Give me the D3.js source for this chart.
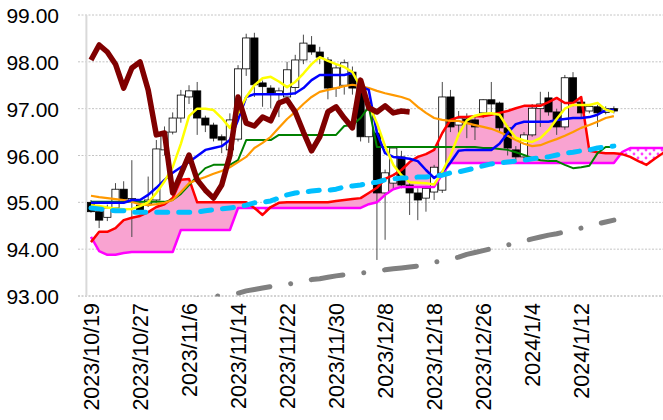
<!DOCTYPE html>
<html><head><meta charset="utf-8">
<script src="https://cdn.jsdelivr.net/npm/d3@7/dist/d3.min.js"></script>
<style>body{margin:0;background:#fff}svg{display:block}</style>
</head><body>
<svg id="c" width="663" height="420"></svg>
<script>
// ---------- data ----------
const dates = ["2023/10/19","2023/10/20","2023/10/23","2023/10/24","2023/10/25","2023/10/26","2023/10/27","2023/10/30","2023/10/31","2023/11/1",
"2023/11/2","2023/11/3","2023/11/6","2023/11/7","2023/11/8","2023/11/9","2023/11/10","2023/11/13","2023/11/14","2023/11/15",
"2023/11/16","2023/11/17","2023/11/20","2023/11/21","2023/11/22","2023/11/23","2023/11/24","2023/11/27","2023/11/28","2023/11/29",
"2023/11/30","2023/12/1","2023/12/4","2023/12/5","2023/12/6","2023/12/7","2023/12/8","2023/12/11","2023/12/12","2023/12/13",
"2023/12/14","2023/12/15","2023/12/18","2023/12/19","2023/12/20","2023/12/21","2023/12/22","2023/12/25","2023/12/26","2023/12/27",
"2023/12/28","2023/12/29","2024/1/2","2024/1/3","2024/1/4","2024/1/5","2024/1/8","2024/1/9","2024/1/10","2024/1/11",
"2024/1/12","2024/1/15","2024/1/16","2024/1/17","2024/1/18"];
const futureSlots = 26;
const openP  = [95.00,94.80,94.68,94.88,95.28,95.02,94.94,94.97,95.05,96.12,96.50,96.80,97.25,97.38,96.80,96.65,96.40,96.12,96.35,97.85,98.51,97.55,97.44,97.30,97.25,97.45,98.04,98.36,98.21,98.04,97.44,97.50,97.78,97.44,96.40,96.48,95.20,95.41,95.97,95.37,95.20,95.09,95.22,95.26,97.25,96.65,96.78,96.76,96.91,97.19,97.12,96.59,96.12,95.97,96.44,97.00,97.23,96.93,96.61,97.66,97.14,96.95,97.04,96.92,97.00];
const highP  = [95.05,94.90,94.95,95.41,95.45,95.90,95.05,95.55,96.33,96.62,96.92,97.40,97.50,97.57,96.85,96.70,96.45,96.90,97.93,98.60,98.62,97.60,97.50,97.45,98.00,98.15,98.58,98.55,98.32,98.10,97.95,98.05,97.90,97.50,97.05,96.60,95.70,96.20,96.10,95.45,95.30,95.35,95.80,97.57,97.40,96.95,96.90,96.85,97.20,97.57,97.15,96.65,96.20,96.50,97.10,97.36,97.36,97.00,97.72,97.78,97.20,97.10,97.08,97.05,97.05];
const lowP   = [94.78,94.45,94.60,94.85,95.00,94.26,94.70,94.90,95.00,96.00,96.45,96.70,97.10,96.44,96.50,96.30,96.05,95.95,96.30,97.70,97.25,97.04,97.01,96.82,97.15,97.30,97.95,98.15,97.95,97.20,97.25,97.30,97.30,96.30,96.27,93.77,94.20,95.30,95.30,94.73,94.62,94.80,95.05,95.20,96.50,96.40,96.37,96.33,96.80,96.90,96.50,96.00,95.90,95.90,96.40,96.61,96.85,96.44,96.55,97.05,96.82,96.90,96.61,96.88,96.90];
const closeP = [94.80,94.62,94.88,95.28,95.07,95.08,94.79,95.05,96.14,96.50,96.80,97.29,97.38,96.80,96.65,96.37,96.33,96.76,97.85,98.51,97.51,97.47,97.33,97.38,97.83,98.04,98.40,98.21,98.10,97.44,97.87,97.98,97.44,96.40,96.97,95.20,95.63,96.16,95.37,95.20,95.05,95.30,95.75,97.25,96.61,96.80,96.70,96.61,97.19,97.10,96.59,96.16,95.97,96.44,97.01,97.10,96.93,96.61,97.66,97.14,96.91,97.05,96.91,97.00,96.95];
const tenkan = [94.94,94.92,94.89,94.87,94.85,94.86,94.92,95.00,95.20,95.45,95.75,96.25,96.84,97.00,97.00,96.97,96.80,96.59,96.90,97.25,97.50,97.65,97.68,97.58,97.46,97.57,97.75,97.95,98.10,98.02,97.95,97.89,97.78,97.46,97.10,96.69,96.20,95.80,95.58,95.43,95.42,95.41,95.38,95.65,96.00,96.45,96.75,96.85,96.89,96.90,96.87,96.60,96.38,96.32,96.29,96.37,96.54,96.78,97.00,97.08,97.08,97.08,97.12,96.98,96.93];
const kijun = [94.99,94.99,94.99,94.99,94.99,95.05,95.05,95.16,95.31,95.48,95.63,95.75,95.86,95.99,96.12,96.16,96.20,96.33,96.76,97.25,97.31,97.31,97.31,97.31,97.31,97.33,97.44,97.61,97.72,97.72,97.72,97.72,97.76,97.48,97.40,96.48,96.05,95.97,95.95,95.93,95.88,95.69,95.52,95.65,95.85,96.10,96.12,96.12,96.12,96.12,96.25,96.48,96.67,96.72,96.72,96.72,96.72,96.76,96.78,96.80,96.80,96.82,96.87,96.97,96.97];
const greenLine = [95.01,95.01,95.01,95.01,95.01,95.01,95.01,95.01,95.01,95.01,95.05,95.18,95.37,95.56,95.73,95.80,95.80,95.80,95.90,96.33,96.33,96.33,96.33,96.44,96.44,96.44,96.44,96.44,96.44,96.44,96.44,96.63,96.65,96.80,97.04,96.18,96.18,96.18,96.18,96.18,96.18,96.18,96.18,96.18,96.18,96.18,96.18,96.18,96.16,96.16,96.14,96.12,96.07,96.01,95.95,95.90,95.88,95.88,95.80,95.73,95.75,95.78,96.05,96.18,96.18];
const orangeLine = [95.14,95.11,95.09,95.07,95.05,95.01,94.96,94.94,94.96,94.99,95.05,95.22,95.41,95.48,95.54,95.61,95.67,95.75,95.86,95.97,96.16,96.27,96.40,96.59,96.78,96.93,97.10,97.25,97.36,97.40,97.44,97.48,97.51,97.48,97.44,97.38,97.33,97.29,97.25,97.19,97.04,96.91,96.80,96.76,96.74,96.74,96.69,96.65,96.61,96.57,96.50,96.42,96.33,96.25,96.20,96.22,96.29,96.35,96.42,96.50,96.59,96.65,96.72,96.80,96.84];
const chikou = [98.04,98.36,98.21,97.95,97.44,97.87,98.00,97.40,96.44,96.48,95.20,95.60,96.01,95.48,95.26,95.09,95.37,96.00,97.25,96.69,96.63,96.82,96.74,97.12,97.19,96.93,96.50,96.10,96.40,96.93,97.04,96.80,96.59,97.61,97.02,96.93,97.06,96.91,96.95,96.93];
const spanA = [94.15,94.37,94.37,94.45,94.62,94.67,94.71,94.79,94.90,94.96,95.09,95.48,95.50,95.00,95.00,95.00,95.00,95.00,95.00,95.00,94.88,94.73,94.90,94.99,95.00,95.00,95.00,95.00,95.00,95.00,95.03,95.05,95.07,95.09,95.20,95.31,95.50,95.58,95.69,95.86,95.97,96.03,96.12,96.48,96.76,96.82,96.82,96.84,96.84,96.87,96.91,96.95,97.01,97.06,97.06,97.06,97.14,97.23,97.12,97.12,97.25,96.10,96.07,96.05,96.05,96.03,95.97,95.88,95.80,95.93,96.05,96.16];
const spanB = [94.26,93.96,93.88,93.88,93.92,93.94,93.94,93.94,93.94,93.94,93.94,94.41,94.41,94.41,94.41,94.41,94.41,94.41,94.88,94.88,94.88,94.88,94.88,94.88,94.88,94.88,94.88,94.88,94.88,94.88,94.88,94.88,94.88,94.88,94.96,95.00,95.16,95.28,95.33,95.33,95.33,95.33,95.33,95.60,95.84,95.84,95.84,95.84,95.84,95.84,95.84,95.84,95.84,95.84,95.84,95.84,95.84,95.84,95.84,95.84,95.84,95.84,95.84,95.84,95.84,96.07,96.16,96.16,96.16,96.16,96.16,96.16];
const cyanLine = [94.88,94.86,94.84,94.82,94.82,94.79,94.79,94.79,94.79,94.79,94.79,94.79,94.79,94.79,94.82,94.84,94.86,94.88,94.90,94.94,94.99,95.00,95.03,95.09,95.16,95.20,95.22,95.24,95.26,95.26,95.28,95.33,95.35,95.37,95.41,95.43,95.48,95.50,95.52,95.52,95.54,95.54,95.56,95.58,95.63,95.65,95.69,95.73,95.78,95.82,95.84,95.86,95.88,95.90,95.93,95.95,95.97,96.01,96.05,96.07,96.10,96.12,96.16,96.18,96.20];
const greyLine = [null,null,null,null,null,null,null,null,null,null,92.87,92.89,92.91,92.94,92.96,92.99,93.01,93.03,93.06,93.11,93.14,93.17,93.20,93.22,93.25,93.28,93.32,93.35,93.37,93.40,93.43,93.45,93.47,93.49,93.51,93.53,93.56,93.58,93.60,93.62,93.64,93.68,93.72,93.75,93.79,93.83,93.89,93.93,93.97,94.01,94.06,94.09,94.13,94.17,94.22,94.26,94.30,94.33,94.37,94.41,94.45,94.49,94.54,94.58,94.62];
const yTicks = [93,94,95,96,97,98,99];
const labelEvery = 6;

// ---------- scales ----------
const W = 663;
const nCat = dates.length + futureSlots;
const step = 8.17, plotLeft = 86.9, plotTop = 15, plotBottom = 296;
const x = d3.scaleLinear().domain([-0.5, nCat - 0.5]).range([plotLeft, plotLeft + nCat * step]);
const y = d3.scaleLinear().domain([93, 99]).range([plotBottom, plotTop]);

const svg = d3.select("#c");
const defs = svg.append("defs");
defs.append("clipPath").attr("id","plot").append("rect")
  .attr("x", plotLeft).attr("y", 0).attr("width", W - plotLeft).attr("height", plotBottom + 0.5);
const pat = defs.append("pattern").attr("id","dots").attr("patternUnits","userSpaceOnUse")
  .attr("width",8).attr("height",8);
pat.append("rect").attr("width",8).attr("height",8).attr("fill","#fff");
pat.append("circle").attr("cx",2).attr("cy",2).attr("r",1.4).attr("fill","#ff40ff");
pat.append("circle").attr("cx",6).attr("cy",6).attr("r",1.4).attr("fill","#ff40ff");

// ---------- grid ----------
const grid = svg.append("g");
yTicks.forEach(v => {
  grid.append("line").attr("x1", 78).attr("x2", W).attr("y1", y(v)).attr("y2", y(v))
    .attr("stroke", v === 93 ? "#a6a6a6" : "#c4c4c4").attr("stroke-width", 1)
    .attr("stroke-dasharray", "2,1.5");
});
grid.append("line").attr("x1", plotLeft - 0.5).attr("x2", plotLeft - 0.5).attr("y1", plotTop).attr("y2", plotBottom)
  .attr("stroke", "#d9d9d9").attr("stroke-width", 2);

// ---------- axes ----------
const yAxis = d3.axisLeft(y).tickValues(yTicks).tickFormat(d3.format(".2f")).tickSize(0).tickPadding(0);
const gy = svg.append("g").attr("transform", "translate(59,0)").call(yAxis);
gy.select(".domain").remove();
gy.selectAll("text").attr("font-family", "Liberation Sans, Arial, sans-serif")
  .attr("font-size", 21).attr("fill", "#000").attr("dy", "0.36em");

const labelIdx = d3.range(0, dates.length, labelEvery);
const xAxis = d3.axisBottom(x).tickValues(labelIdx).tickFormat(i => dates[i]).tickSize(0);
const gx = svg.append("g").attr("transform", `translate(0,${plotBottom})`).call(xAxis);
gx.select(".domain").remove();
gx.selectAll("text").attr("font-family", "Liberation Sans, Arial, sans-serif")
  .attr("font-size", 21.5).attr("fill", "#000")
  .attr("text-anchor", "end").attr("transform", "rotate(-90)")
  .attr("x", -7).attr("y", 0).attr("dy", "0.36em");

const plot = svg.append("g").attr("clip-path", "url(#plot)");

// ---------- cloud ----------
const cloudPts = [];
for (let k = 0; k < spanA.length; k++) {
  cloudPts.push({i: k, a: spanA[k], b: spanB[k]});
  if (k < spanA.length - 1) {
    const d0 = spanA[k] - spanB[k], d1 = spanA[k+1] - spanB[k+1];
    if (d0 * d1 < 0) {
      const t = d0 / (d0 - d1);
      const v = spanA[k] + t * (spanA[k+1] - spanA[k]);
      cloudPts.push({i: k + t, a: v, b: v});
    }
  }
}
plot.append("path").datum(cloudPts)
  .attr("d", d3.area().x(d => x(d.i)).y0(d => y(d.b)).y1(d => y(Math.max(d.a, d.b))))
  .attr("fill", "#f9a3d1");
plot.append("path").datum(cloudPts)
  .attr("d", d3.area().x(d => x(d.i)).y0(d => y(d.a)).y1(d => y(Math.max(d.a, d.b))))
  .attr("fill", "url(#dots)");

const lineOf = d3.line().defined(d => d != null).x((d, i) => x(i)).y(d => y(d));
function drawLine(arr, color, width, extra) {
  const p = plot.append("path").datum(arr).attr("d", lineOf).attr("fill", "none")
    .attr("stroke", color).attr("stroke-width", width).attr("stroke-linejoin", "round");
  if (extra) extra(p);
  return p;
}

// ---------- candles ----------
const candles = plot.append("g");
closeP.forEach((c, i) => {
  const o = openP[i], cx = x(i);
  candles.append("line").attr("x1", cx).attr("x2", cx).attr("y1", y(highP[i])).attr("y2", y(lowP[i]))
    .attr("stroke", "#4a4a4a").attr("stroke-width", 1);
  const yt = y(Math.max(o, c)), yb = y(Math.min(o, c));
  candles.append("rect").attr("x", cx - 3.6).attr("width", 7.2)
    .attr("y", yt).attr("height", Math.max(1, yb - yt))
    .attr("fill", c < o ? "#000" : "#fff").attr("stroke", "#000").attr("stroke-width", 0.8);
});

// ---------- lines ----------
drawLine(spanB, "#ff00ff", 2.5);
drawLine(spanA, "#ff0000", 2.5);
drawLine(greenLine, "#008000", 2);
drawLine(orangeLine, "#ff9900", 2.2);
drawLine(kijun, "#0000ff", 2.5);
drawLine(tenkan, "#ffff00", 2.5);
plot.append("path").datum(chikou)
  .attr("d", d3.line().x((d, j) => x(j)).y(d => y(d)))
  .attr("fill", "none").attr("stroke", "#800000").attr("stroke-width", 5.5).attr("stroke-linejoin", "round");
drawLine(cyanLine, "#00bfff", 5, p => p.attr("stroke-dasharray", "11,11").attr("stroke-linecap", "round"));
const gp = drawLine(greyLine, "#808080", 5, p => p.attr("stroke-dasharray", "32,21,0.01,21").attr("stroke-linecap", "round"));
(function(){
  const node = gp.node(); const L = node.getTotalLength();
  let lo = 0, hi = L;
  for (let it = 0; it < 40; it++) { const m = (lo + hi) / 2; if (node.getPointAtLength(m).x < 455) lo = m; else hi = m; }
  const s0 = lo + 2.5, P = 32 + 21 + 0.01 + 21;
  gp.attr("stroke-dashoffset", P - (s0 % P));
})();
</script>
</body></html>
